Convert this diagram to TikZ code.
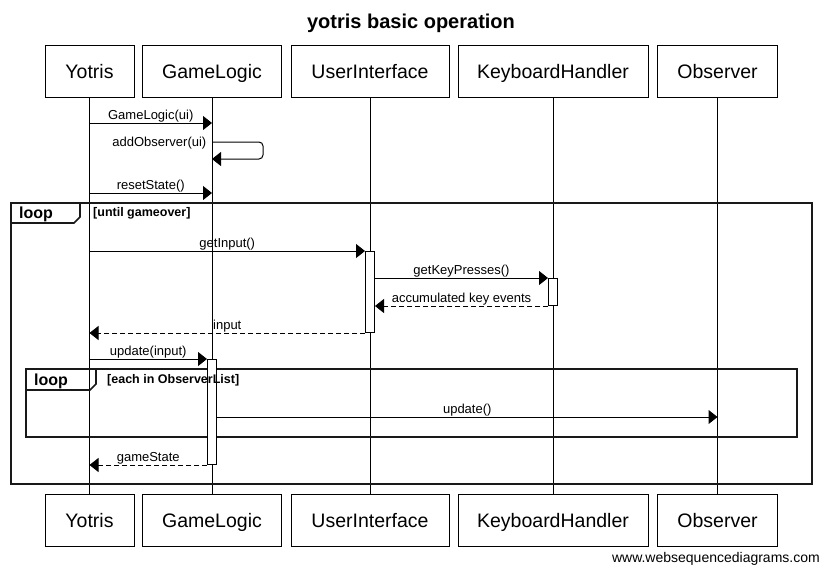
\documentclass[tikz,border=0pt]{standalone}
\usepackage{fontspec}
\setmainfont{Liberation Sans}
\usetikzlibrary{arrows.meta}
\begin{document}
\begin{tikzpicture}[x=1pt,y=-1pt,
  part/.style={draw, line width=1pt, minimum height=52pt, inner sep=0pt, fill=white, text height=14pt, text depth=0pt, font=\fontsize{19.5}{22}\selectfont},
  life/.style={line width=1pt},
  msg/.style={line width=1pt, -{Triangle[length=9pt,width=14pt]}},
  ret/.style={msg, dash pattern=on 5pt off 3pt},
  lbl/.style={font=\fontsize{13}{15}\selectfont, inner sep=0.5pt, text height=9.5pt, text depth=2.5pt, anchor=south},
  act/.style={draw, fill=white, line width=1pt, inner sep=0pt, minimum width=9pt, anchor=north},
  frame/.style={draw, line width=1.6pt, black!90},
  looplbl/.style={font=\bfseries\fontsize{16}{18}\selectfont, anchor=west, inner sep=0pt},
  cond/.style={font=\bfseries\fontsize{12.5}{14}\selectfont, anchor=west, inner sep=0pt}
]
\useasboundingbox (0,0) rectangle (821,568);

% title
\node[font=\bfseries\fontsize{20}{24}\selectfont] (title) at (411,23) {yotris basic operation};

% participants
\node[part, minimum width=89pt]  (yt) at (89.5,71) {Yotris};
\node[part, minimum width=139pt] (gl) at (212,71) {GameLogic};
\node[part, minimum width=158pt] (ui) at (370,71) {UserInterface};
\node[part, minimum width=190pt] (kh) at (553,71) {KeyboardHandler};
\node[part, minimum width=120pt] (ob) at (717.5,71) {Observer};

\node[part, minimum width=89pt]  (ytb) at (89.5,520) {Yotris};
\node[part, minimum width=139pt] (glb) at (212,520) {GameLogic};
\node[part, minimum width=158pt] (uib) at (370,520) {UserInterface};
\node[part, minimum width=190pt] (khb) at (553,520) {KeyboardHandler};
\node[part, minimum width=120pt] (obb) at (717.5,520) {Observer};

% lifelines
\foreach \a/\b in {yt/ytb,gl/glb,ui/uib,kh/khb,ob/obb}
  \draw[life] (\a.south) -- (\b.north);

% frames
\draw[frame] (11,203) rectangle (812,484);
\draw[frame] (80,203) -- (80,217) -- (74,223) -- (11,223);
\node[looplbl] (l1) at (19,214) {loop};
\node[cond] (c1) at (93,213) {[until gameover]};

\draw[frame] (26,369) rectangle (797,437);
\draw[frame] (96,369) -- (96,384) -- (90,390) -- (26,390);
\node[looplbl] (l2) at (34,381) {loop};

% activations
\node[act, minimum height=81pt] (aui) at (ui.south |- 0,251) {};
\node[act, minimum height=27pt] (akh) at (kh.south |- 0,278) {};
\node[act, minimum height=105pt] (agl) at (gl.south |- 0,359) {};

\node[cond] (c2) at (107,380) {[each in ObserverList]};

% messages
\draw[msg] (yt |- 0,123) -- node[lbl] (m1) {GameLogic(ui)} (gl |- 0,123);
\draw[msg, rounded corners=4pt] (gl |- 0,142) -- (263,142) -- (263,159) -- (gl |- 0,159);
\node[lbl, anchor=east] (m2) at (207,143) {addObserver(ui)};
\draw[msg] (yt |- 0,193) -- node[lbl] (m3) {resetState()} (gl |- 0,193);

\draw[msg] (yt |- aui.north west) -- node[lbl] (m4) {getInput()} (aui.north west);
\draw[msg] (aui.east |- akh.north west) -- node[lbl] (m5) {getKeyPresses()} (akh.north west);
\draw[ret] (akh.south west) -- node[lbl] (m6) {accumulated key events} (aui.east |- akh.south west);
\draw[ret] (aui.south west) -- node[lbl] (m7) {input} (yt |- aui.south west);

\draw[msg] (yt |- agl.north west) -- node[lbl] (m8) {update(input)} (agl.north west);
\draw[msg] (agl.east |- 0,417) -- node[lbl] (m9) {update()} (ob |- 0,417);
\draw[ret] (agl.south west) -- node[lbl] (m10) {gameState} (yt |- agl.south west);

% footer
\node[font=\fontsize{14}{16}\selectfont, anchor=east, inner sep=0pt] (wm) at (820,559) {www.websequencediagrams.com};
\end{tikzpicture}
\end{document}
